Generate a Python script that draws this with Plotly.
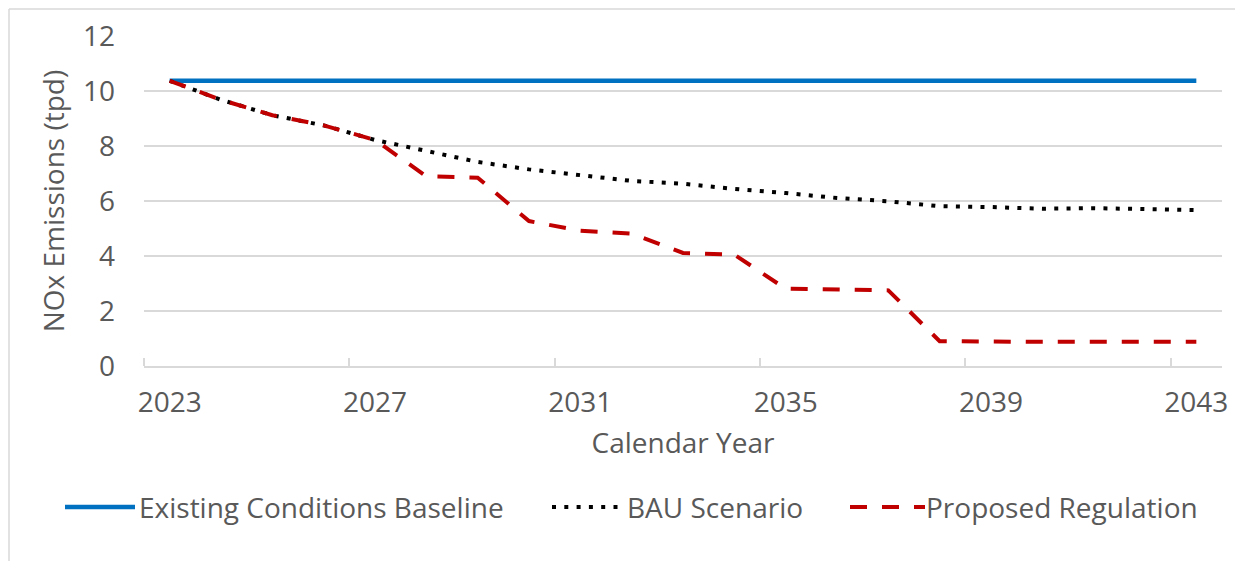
import plotly.graph_objects as go

years = list(range(2023, 2044))
baseline = [10.37] * 21
bau = [10.37, 9.68, 9.12, 8.75, 8.22, 7.82, 7.42, 7.15, 6.93, 6.73, 6.63,
       6.44, 6.29, 6.11, 5.99, 5.81, 5.78, 5.72, 5.74, 5.70, 5.67]
proposed = [10.37, 9.68, 9.12, 8.75, 8.22, 6.90, 6.85, 5.27, 4.92, 4.81, 4.11,
            4.05, 2.81, 2.78, 2.75, 0.90, 0.88, 0.88, 0.88, 0.88, 0.88]
series_names = ["Existing Conditions Baseline", "BAU Scenario", "Proposed Regulation"]
x_tick_labels = ["2023", "2027", "2031", "2035", "2039", "2043"]
y_ticks = [0, 2, 4, 6, 8, 10, 12]

FONT = "Open Sans"
FS = 28
TXT = "#595959"
GRID = "#D9D9D9"
BLUE = "#0070C0"
RED = "#C00000"

OFF = 8  # page offset of the figure div (body margin)
W, H = 1243, 561
L, T = 144 - OFF, 36 - OFF
PW, PH = 1078, 330
R, B = W - L - PW, H - T - PH


def px(xp):  # page pixel x -> paper
    return (xp - OFF - L) / PW


def py(yp):  # page pixel y -> paper
    return (T + PH - (yp - OFF)) / PH


fig = go.Figure()
fig.add_trace(go.Scatter(x=years, y=baseline, mode="lines", name=series_names[0],
                         line=dict(color=BLUE, width=4.5)))
fig.add_trace(go.Scatter(x=years, y=bau, mode="lines", name=series_names[1],
                         line=dict(color="black", width=4, dash="4px,8.3px")))
fig.add_trace(go.Scatter(x=years, y=proposed, mode="lines", name=series_names[2],
                         line=dict(color=RED, width=4, dash="17px,15px")))

fig.update_layout(
    width=W, height=H,
    margin=dict(l=L, r=R, t=T, b=B, autoexpand=False),
    paper_bgcolor="white", plot_bgcolor="white",
    showlegend=False,
    font=dict(family=FONT, size=FS, color=TXT),
    xaxis=dict(
        range=[2022.5, 2043.5], automargin=False,
        tickvals=[int(v) for v in x_tick_labels], ticktext=x_tick_labels,
        ticks="", showgrid=False, zeroline=False,
        showline=True, linecolor=GRID, linewidth=1.5,
        tickfont=dict(family=FONT, size=FS, color=TXT),
        ticklabelstandoff=11,
        minor=dict(tick0=2022.5, dtick=4, ticks="inside", ticklen=8,
                   tickcolor=GRID, tickwidth=1.5, showgrid=False),
        title=dict(text="Calendar Year", font=dict(family=FONT, size=FS, color=TXT),
                   standoff=14),
    ),
    yaxis=dict(
        range=[0, 12], tickvals=y_ticks, automargin=False,
        showgrid=True, gridcolor=GRID, gridwidth=1.5,
        zeroline=False, showline=False, ticks="",
        tickfont=dict(family=FONT, size=FS, color=TXT),
        ticklabelstandoff=28,
        title=dict(text="NOx Emissions (tpd)", font=dict(family=FONT, size=FS, color=TXT),
                   standoff=10),
    ),
)

# outer chart border (left and top)
fig.add_shape(type="line", xref="paper", yref="paper", x0=px(OFF + 1), x1=px(OFF + 1),
              y0=py(OFF + 1), y1=py(H + OFF + 5), line=dict(color=GRID, width=1.5))
fig.add_shape(type="line", xref="paper", yref="paper", x0=px(OFF + 1), x1=px(W + OFF + 5),
              y0=py(OFF + 1), y1=py(OFF + 1), line=dict(color=GRID, width=1.5))

# custom legend
ly = py(507)
legend_items = [
    (65, 135, 137, dict(color=BLUE, width=4.5), series_names[0]),
    (552, 620, 625, dict(color="black", width=4, dash="4px,8.3px"), series_names[1]),
    (850, 925, 924, dict(color=RED, width=4, dash="17px,15px"), series_names[2]),
]
for x0, x1, xt, ln, name in legend_items:
    fig.add_shape(type="line", xref="paper", yref="paper", x0=px(x0), x1=px(x1), y0=ly, y1=ly, line=ln)
    fig.add_annotation(xref="paper", yref="paper", x=px(xt), y=ly, text=name, showarrow=False,
                       xanchor="left", yanchor="middle",
                       font=dict(family=FONT, size=FS, color=TXT))

fig.write_html("out.html")
